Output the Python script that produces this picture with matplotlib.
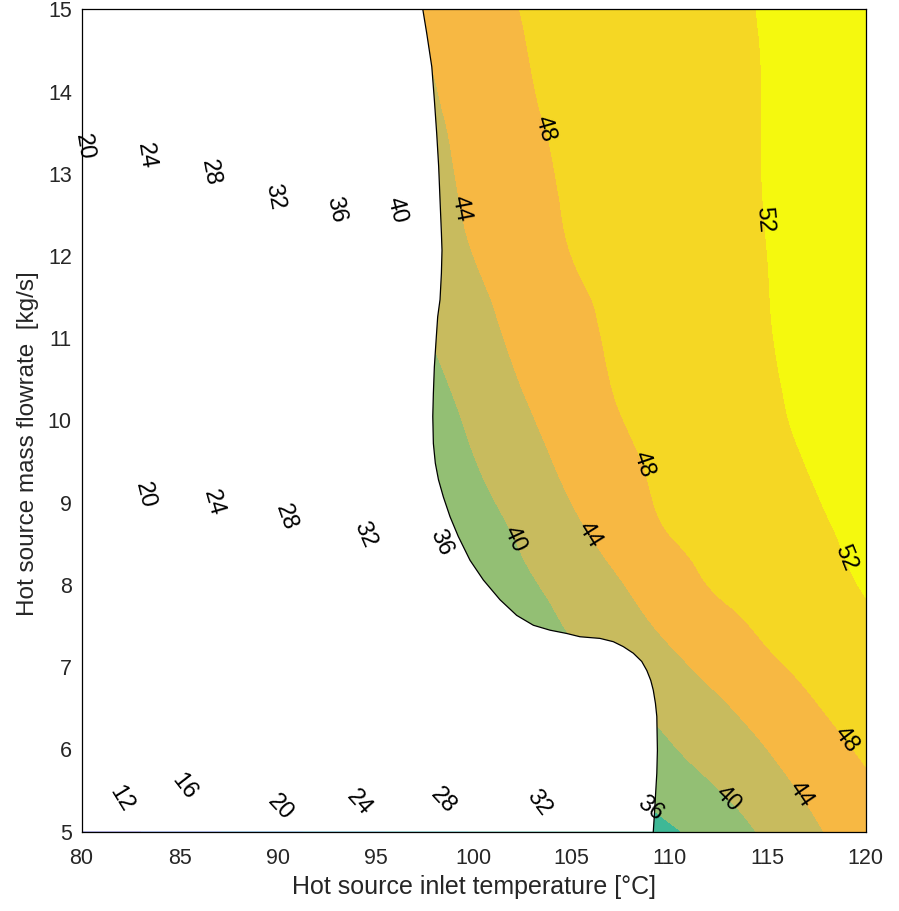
import numpy as np
import matplotlib
matplotlib.use("Agg")
import matplotlib.pyplot as plt
from matplotlib.patches import Polygon
from matplotlib.tri import Triangulation, UniformTriRefiner, CubicTriInterpolator

plt.rcParams['font.family'] = ['Liberation Sans', 'DejaVu Sans']

# Grid axes: hot source inlet temperature [degC] and mass flowrate [kg/s]
inlet_temp = [80, 82.5, 85, 87.5, 90, 92.5, 95, 97.5, 100, 102.5,
              105, 107.5, 110, 112.5, 115, 117.5, 120]
mass_flow = [5, 6, 6.5, 7, 7.5, 8, 8.5, 9, 10, 11, 12, 13, 14, 15]

# Field values along each flowrate row (one entry per inlet temperature)
z_m050 = [8.6, 11.4, 13.9, 16.3, 18.7, 21.1, 23.5, 25.9, 28.2, 30.5, 32.5, 34.0, 35.5, 37.8, 40.7, 43.6, 46.3]
z_m060 = [11.4, 14.4, 17.1, 19.5, 22.0, 24.4, 26.7, 29.0, 31.1, 33.1, 35.0, 37.2, 39.6, 41.8, 44.0, 46.4, 48.5]
z_m065 = [13.0, 15.9, 18.2, 20.6, 23.0, 25.5, 27.9, 30.2, 32.5, 34.6, 36.8, 39.1, 41.3, 43.4, 45.6, 47.8, 49.7]
z_m070 = [14.7, 16.9, 19.1, 21.6, 24.2, 26.8, 29.3, 31.7, 34.0, 36.3, 38.7, 41.0, 43.1, 45.2, 47.3, 49.0, 50.5]
z_m075 = [15.2, 17.5, 19.8, 22.5, 25.2, 27.8, 30.4, 32.9, 35.2, 37.8, 40.4, 42.6, 44.7, 46.8, 48.6, 50.0, 51.4]
z_m080 = [15.7, 18.1, 20.6, 23.4, 26.2, 28.8, 31.5, 34.1, 36.6, 39.2, 41.5, 43.8, 46.2, 48.4, 49.6, 50.9, 52.2]
z_m085 = [15.9, 18.5, 21.3, 24.2, 27.0, 29.7, 32.4, 35.1, 37.7, 40.3, 42.8, 45.3, 47.7, 49.1, 50.3, 51.5, 52.5]
z_m090 = [16.0, 19.0, 22.0, 24.9, 27.8, 30.6, 33.4, 36.1, 38.8, 41.4, 44.0, 46.4, 48.6, 49.6, 50.7, 51.9, 52.7]
z_m100 = [17.1, 20.1, 23.2, 26.1, 29.0, 31.9, 34.8, 37.8, 40.7, 43.4, 45.7, 47.9, 49.1, 50.3, 51.5, 52.5, 53.0]
z_m110 = [17.7, 20.9, 24.1, 27.2, 30.2, 33.3, 36.4, 39.6, 42.4, 44.9, 46.8, 48.7, 49.7, 50.8, 51.9, 52.6, 53.2]
z_m120 = [18.6, 21.8, 25.0, 28.1, 31.4, 34.7, 37.9, 41.1, 44.0, 46.0, 48.0, 49.0, 50.0, 51.0, 52.0, 52.7, 53.4]
z_m130 = [19.5, 22.8, 26.0, 29.2, 32.5, 35.9, 39.2, 42.2, 45.0, 46.9, 48.5, 49.4, 50.3, 51.2, 52.1, 52.8, 53.5]
z_m140 = [20.4, 23.6, 26.8, 30.1, 33.5, 36.8, 40.1, 43.3, 45.6, 47.6, 48.8, 49.6, 50.4, 51.3, 52.1, 52.9, 53.6]
z_m150 = [20.9, 24.3, 27.5, 30.8, 34.2, 37.6, 41.0, 44.2, 46.3, 48.1, 49.0, 49.8, 50.5, 51.3, 52.2, 52.9, 53.7]

levels = [4, 8, 12, 16, 20, 24, 28, 32, 36, 40, 44, 48, 52, 56]
band_colors = ['#3e26a8', '#4443d8', '#3a6cf6', '#1e8fe3', '#16a6d0', '#14b5b7',
               '#2bbba0', '#3eb896', '#93bf74', '#c8bb5e', '#f7b843', '#f5d724',
               '#f5f90e']

# Feasibility limit (temperature, flowrate); left of it the cycle is not feasible
limit_temp = [97.41, 97.61, 97.87, 98.00, 98.12, 98.22, 98.29, 98.36, 98.39, 98.36,
              98.29, 98.17, 98.09, 98.00, 97.95, 97.92, 97.95, 98.05, 98.21, 98.46,
              98.80, 99.22, 99.82, 100.50, 101.35, 102.20, 103.05, 103.90, 104.75,
              105.43, 106.45, 107.13, 107.64, 108.15, 108.58, 108.84, 109.04, 109.17,
              109.28, 109.35, 109.38, 109.35, 109.31, 109.24, 109.17]
limit_flow = [15.00, 14.71, 14.30, 13.90, 13.49, 13.09, 12.68, 12.28, 12.07, 11.79,
              11.47, 11.26, 10.98, 10.65, 10.33, 10.05, 9.72, 9.48, 9.28, 9.07,
              8.83, 8.59, 8.30, 8.06, 7.82, 7.63, 7.51, 7.45, 7.41,
              7.37, 7.35, 7.31, 7.25, 7.17, 7.07, 6.96, 6.84, 6.72,
              6.56, 6.40, 5.99, 5.71, 5.55, 5.26, 5.00]

# Where the contour values are printed
label_temp = [80.18, 83.29, 86.56, 89.79, 92.76, 95.96, 99.40, 103.68, 114.79,
              83.24, 86.73, 90.47, 94.38, 98.29, 102.03, 105.78, 108.66, 118.66,
              81.96, 85.45, 90.21, 94.17, 98.51, 103.14, 109.26, 113.0, 116.66, 118.87]
label_flow = [13.33, 13.21, 13.01, 12.72, 12.55, 12.55, 12.58, 13.55, 12.44,
              9.09, 9.00, 8.83, 8.61, 8.51, 8.55, 8.59, 9.46, 8.30,
              5.39, 5.58, 5.32, 5.36, 5.39, 5.32, 5.36, 5.40, 5.44, 6.09]

Z = np.array([z_m050, z_m060, z_m065, z_m070, z_m075, z_m080, z_m085,
              z_m090, z_m100, z_m110, z_m120, z_m130, z_m140, z_m150])
TT, MM = np.meshgrid(inlet_temp, mass_flow)
nx, ny = len(inlet_temp), len(mass_flow)
triangles = []
for j in range(ny - 1):
    for i in range(nx - 1):
        a = j * nx + i
        triangles += [[a, a + 1, a + nx + 1], [a, a + nx + 1, a + nx]]
tri = Triangulation(TT.ravel(), MM.ravel(), triangles)
interp = CubicTriInterpolator(tri, Z.ravel(), kind='min_E')
tri_f, z_f = UniformTriRefiner(tri).refine_field(Z.ravel(), interp, subdiv=4)

fig = plt.figure(figsize=(8.99, 9.11), dpi=100)
ax = fig.add_axes([0.0907, 0.0871, 0.8721, 0.9027])

ax.tricontourf(tri_f, z_f, levels=levels, colors=band_colors, zorder=1)
cs = ax.tricontour(tri_f, z_f, levels=levels, colors='none', zorder=1)

# Blank out the infeasible region and outline its limit
poly_pts = [(80, 5), (80, 15)] + list(zip(limit_temp, limit_flow))
ax.add_patch(Polygon(poly_pts, closed=True, facecolor='white',
                     edgecolor='none', zorder=2))
ax.plot(limit_temp, limit_flow, color='black', lw=0.9, zorder=2.2)

texts = ax.clabel(cs, manual=list(zip(label_temp, label_flow)), inline=False,
                  fontsize=17, colors='black', fmt='%d')
for t in texts:
    t.set_clip_on(False)
    t.set_zorder(4)

ax.set_xlim(80, 120)
ax.set_ylim(5, 15)
ax.set_xticks(np.arange(80, 121, 5))
ax.set_yticks(np.arange(5, 16, 1))
ax.tick_params(axis='both', length=0, labelsize=15.5, labelcolor='#262626')
ax.tick_params(axis='x', pad=12)
ax.tick_params(axis='y', pad=7)
for s in ax.spines.values():
    s.set_linewidth(0.9)
    s.set_color('black')
    s.set_zorder(3)

ax.set_xlabel('Hot source inlet temperature [°C]', fontsize=18, color='#262626', labelpad=4)
ax.set_ylabel('Hot source mass flowrate  [kg/s]', fontsize=17.5, color='#262626')
ax.yaxis.set_label_coords(-0.054, 0.472)

fig.savefig('out.png', dpi=100)
